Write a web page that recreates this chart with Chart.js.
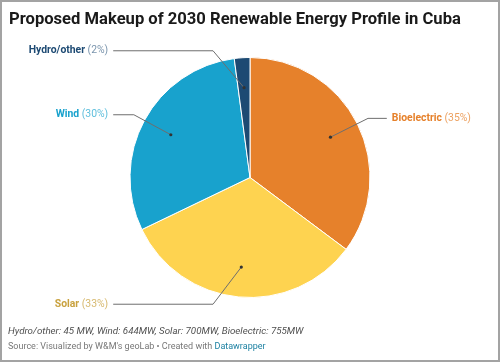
<!DOCTYPE html>
<html>
<head>
<meta charset="utf-8">
<script src="https://cdn.jsdelivr.net/npm/chart.js@4"></script>
<style>
  body { margin: 0; background: #fff; font-family: Roboto, sans-serif; }
  #wrap { position: relative; width: 500px; height: 362px; box-sizing: border-box; border: 2px solid #a3a3a3; background: #fff; overflow: hidden; }
  #title { position: absolute; left: 7px; top: 7px; font-size: 16.6px; font-weight: 700; color: #1a1a1a; white-space: nowrap; }
  #chartBox { position: absolute; left: 0; top: 0; width: 496px; height: 358px; }
  #notes { position: absolute; left: 6px; top: 323px; font-size: 9.75px; font-style: italic; color: #505050; white-space: nowrap; }
  #source { position: absolute; left: 6px; top: 339px; font-size: 9px; color: #777; white-space: nowrap; }
  #source span { color: #1d81a2; }
</style>
</head>
<body>
<div id="wrap">
  <div id="chartBox"><canvas id="pieChart"></canvas></div>
  <div id="title">Proposed Makeup of 2030 Renewable Energy Profile in Cuba</div>
  <div id="notes">Hydro/other: 45 MW, Wind: 644MW, Solar: 700MW, Bioelectric: 755MW</div>
  <div id="source">Source: Visualized by W&amp;M's geoLab • Created with <span>Datawrapper</span></div>
</div>
<script>
const categories = ["Bioelectric", "Solar", "Wind", "Hydro/other"];
const capacityMW = [755, 700, 644, 45];
const shareLabels = ["(35%)", "(33%)", "(30%)", "(2%)"];

const sliceColors = ["#e6812b", "#fed350", "#18a2cd", "#1d4a73"];
const nameColors = ["#e6812b", "#c9a23f", "#18a2cd", "#1d4a73"];
const pctColors = ["rgba(230,129,43,0.75)", "rgba(201,162,63,0.75)", "rgba(24,162,205,0.7)", "rgba(29,74,115,0.6)"];

// leader lines + labels, positioned from the arc geometry
const pieLabels = {
    id: "pieLabels",
    afterDatasetsDraw(chart) {
        const ctx = chart.ctx;
        const arcs = chart.getDatasetMeta(0).data;
        ctx.save();
        arcs.forEach((arc, i) => {
            const { x, y, startAngle, endAngle, outerRadius } = arc.getProps(["x", "y", "startAngle", "endAngle", "outerRadius"], true);
            const mid = (startAngle + endAngle) / 2;
            const side = Math.cos(mid) >= 0 ? 1 : -1;
            const dotX = x + Math.cos(mid) * outerRadius * 0.75;
            const dotY = y + Math.sin(mid) * outerRadius * 0.75;

            let s = Math.sin(mid);
            let c = Math.cos(mid);
            if (Math.abs(s) > 0.96) {
                s = Math.sign(s) * 0.96;
                c = side * Math.sqrt(1 - 0.96 * 0.96);
            }
            const elbowX = x + c * outerRadius * 1.1;
            const elbowY = y + s * outerRadius * 1.1;
            const endX = x + side * outerRadius * 1.14;

            ctx.strokeStyle = "#6e6e6e";
            ctx.lineWidth = 1;
            ctx.beginPath();
            ctx.moveTo(dotX, dotY);
            ctx.lineTo(elbowX, elbowY);
            ctx.lineTo(endX, elbowY);
            ctx.stroke();

            ctx.fillStyle = "#333";
            ctx.beginPath();
            ctx.arc(dotX, dotY, 1.6, 0, Math.PI * 2);
            ctx.fill();

            const boldFont = "700 10.4px Roboto";
            const normFont = "400 10.4px Roboto";
            ctx.font = boldFont;
            const nameW = ctx.measureText(categories[i] + " ").width;
            ctx.font = normFont;
            const pctW = ctx.measureText(shareLabels[i]).width;
            const startX = side > 0 ? endX + 5 : endX - 5 - nameW - pctW;

            ctx.textAlign = "left";
            ctx.textBaseline = "middle";
            ctx.font = boldFont;
            ctx.fillStyle = nameColors[i];
            ctx.fillText(categories[i], startX, elbowY);
            ctx.font = normFont;
            ctx.fillStyle = pctColors[i];
            ctx.fillText(shareLabels[i], startX + nameW, elbowY);
        });
        ctx.restore();
    }
};

new Chart(document.getElementById("pieChart"), {
    type: "pie",
    data: {
        labels: categories,
        datasets: [{
            data: capacityMW,
            backgroundColor: sliceColors,
            borderColor: "#ffffff",
            borderWidth: 1
        }]
    },
    options: {
        responsive: true,
        maintainAspectRatio: false,
        animation: false,
        layout: { padding: { top: 55, bottom: 62, left: 0, right: 0 } },
        plugins: {
            legend: { display: false },
            tooltip: { enabled: false }
        }
    },
    plugins: [pieLabels]
});
</script>
</body>
</html>
